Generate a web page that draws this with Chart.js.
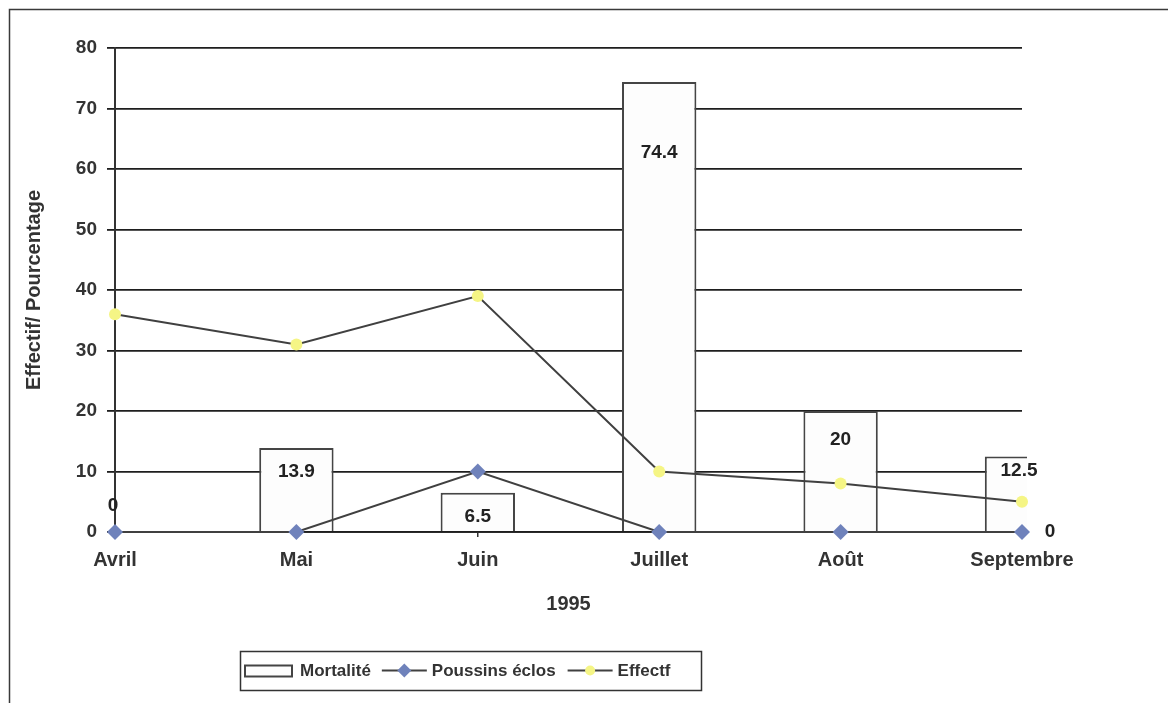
<!DOCTYPE html>
<html>
<head>
<meta charset="utf-8">
<script src="https://cdn.jsdelivr.net/npm/chart.js@4/dist/chart.umd.min.js"></script>
<style>
  html, body { margin: 0; padding: 0; background: #fff; }
  #wrap { width: 1168px; height: 703px; }
</style>
</head>
<body>
<div id="wrap"><canvas id="graphique" width="1168" height="703"></canvas></div>
<script>
// Mois de l'année 1995
const mois = ['Avril', 'Mai', 'Juin', 'Juillet', 'Août', 'Septembre'];
// Mortalité (%)
const mortalite = [0, 13.9, 6.5, 74.4, 20, 12.5];
// Poussins éclos
const poussinsEclos = [0, 0, 10, 0, 0, 0];
// Effectif
const effectif = [36, 31, 39, 10, 8, 5];
// Graduations de l'axe vertical
const graduations = [0, 10, 20, 30, 40, 50, 60, 70, 80];

// Position des étiquettes de mortalité : décalage (px) sous le haut de la barre
const decalageEtiquettes = [-26, 24, 24, 71, 29, 14];

const police = "'Liberation Sans', Arial, sans-serif";
const couleurTexte = '#333333';

// Cadre extérieur (haut et gauche)
const cadre = {
  id: 'cadre',
  beforeDraw(chart) {
    const ctx = chart.ctx;
    ctx.save();
    ctx.fillStyle = '#ffffff';
    ctx.fillRect(0, 0, chart.width, chart.height);
    ctx.strokeStyle = '#3a3a3a';
    ctx.lineWidth = 1.5;
    ctx.beginPath();
    ctx.moveTo(chart.width, 9.5);
    ctx.lineTo(9.5, 9.5);
    ctx.lineTo(9.5, chart.height);
    ctx.stroke();
    ctx.restore();
  }
};

// Étiquettes de valeurs
const etiquettes = {
  id: 'etiquettes',
  afterDatasetsDraw(chart) {
    const ctx = chart.ctx;
    ctx.save();
    ctx.font = 'bold 19px ' + police;
    ctx.textAlign = 'center';
    ctx.textBaseline = 'middle';
    ctx.fillStyle = '#222222';
    // Mortalité : dans la barre, sous son sommet
    const barres = chart.getDatasetMeta(0).data;
    barres.forEach((b, i) => {
      let x = b.x;
      if (i === 0) x -= 2;
      if (i === mois.length - 1) x -= 3;
      ctx.fillText(String(mortalite[i]), x, b.y + decalageEtiquettes[i]);
    });
    // Poussins éclos : valeur du dernier mois, à droite du point
    const pts = chart.getDatasetMeta(1).data;
    const dernier = pts[pts.length - 1];
    ctx.fillText(String(poussinsEclos[poussinsEclos.length - 1]), dernier.x + 28, dernier.y);
    ctx.restore();
  }
};

// Légende encadrée sous le graphique
const legendeEncadree = {
  id: 'legendeEncadree',
  afterDraw(chart) {
    const ctx = chart.ctx;
    const ds = chart.data.datasets;
    const x0 = 240, y0 = 651, w = 461, h = 39;
    const cy = y0 + h / 2;
    ctx.save();
    ctx.strokeStyle = '#333333';
    ctx.lineWidth = 1.5;
    ctx.strokeRect(x0 + 0.5, y0 + 0.5, w, h);
    ctx.font = 'bold 17px ' + police;
    ctx.textBaseline = 'middle';
    ctx.textAlign = 'left';
    let x = x0 + 5;
    // Mortalité : rectangle
    ctx.fillStyle = '#fdfdfd';
    ctx.fillRect(x, cy - 5, 47, 11);
    ctx.strokeStyle = '#444444';
    ctx.lineWidth = 2;
    ctx.strokeRect(x, cy - 5, 47, 11);
    x += 55;
    ctx.fillStyle = couleurTexte;
    ctx.fillText(ds[0].label, x, cy + 1);
    x += ctx.measureText(ds[0].label).width + 11;
    // Séries en ligne : trait + marqueur
    [1, 2].forEach((k) => {
      const d = ds[k];
      ctx.strokeStyle = d.borderColor;
      ctx.lineWidth = 2;
      ctx.beginPath();
      ctx.moveTo(x, cy);
      ctx.lineTo(x + 45, cy);
      ctx.stroke();
      ctx.fillStyle = d.pointBackgroundColor;
      ctx.beginPath();
      if (d.pointStyle === 'rectRot') {
        const r = 7;
        ctx.moveTo(x + 22.5, cy - r);
        ctx.lineTo(x + 22.5 + r, cy);
        ctx.lineTo(x + 22.5, cy + r);
        ctx.lineTo(x + 22.5 - r, cy);
        ctx.closePath();
      } else {
        ctx.arc(x + 22.5, cy, 5, 0, Math.PI * 2);
      }
      ctx.fill();
      x += 50;
      ctx.fillStyle = couleurTexte;
      ctx.fillText(d.label, x, cy + 1);
      x += ctx.measureText(d.label).width + 12;
    });
    ctx.restore();
  }
};

const policeX = { family: police, size: 20, weight: 'bold' };
const policeY = { family: police, size: 19, weight: 'bold' };

new Chart(document.getElementById('graphique'), {
  type: 'bar',
  data: {
    labels: mois,
    datasets: [
      {
        type: 'bar',
        label: 'Mortalité',
        data: mortalite,
        backgroundColor: '#fdfdfd',
        borderColor: '#454545',
        borderWidth: 2,
        borderSkipped: 'bottom',
        barPercentage: 0.41,
        categoryPercentage: 1,
        order: 3,
        clip: { left: 0, top: 0, right: 5, bottom: 0 }
      },
      {
        type: 'line',
        label: 'Poussins éclos',
        data: poussinsEclos,
        borderColor: '#404040',
        borderWidth: 2,
        tension: 0,
        pointStyle: 'rectRot',
        pointRadius: 8,
        pointBackgroundColor: '#6f82bb',
        pointBorderColor: '#6f82bb',
        pointBorderWidth: 0,
        order: 1,
        clip: false
      },
      {
        type: 'line',
        label: 'Effectf',
        data: effectif,
        borderColor: '#404040',
        borderWidth: 2,
        tension: 0,
        pointStyle: 'circle',
        pointRadius: 6,
        pointBackgroundColor: '#f5f585',
        pointBorderColor: '#f5f585',
        pointBorderWidth: 0,
        order: 2,
        clip: false
      }
    ]
  },
  options: {
    responsive: false,
    animation: false,
    events: [],
    layout: { padding: { left: 22, top: 48, right: 146, bottom: 87 } },
    plugins: {
      legend: { display: false },
      tooltip: { enabled: false }
    },
    scales: {
      x: {
        offset: false,
        grid: { display: true, offset: false, drawOnChartArea: false, tickLength: 5, color: '#333333', lineWidth: 1.5 },
        border: { display: true, color: '#1e1e1e', width: 1.8 },
        ticks: { font: policeX, color: couleurTexte, padding: 11, maxRotation: 0, autoSkip: false },
        title: { display: true, text: '1995', font: policeX, color: couleurTexte, padding: 0 },
        afterFit(s) { s.height = 84; }
      },
      y: {
        min: 0,
        max: 80,
        afterBuildTicks(s) { s.ticks = graduations.map(v => ({ value: v })); },
        ticks: { font: policeY, color: couleurTexte, padding: 10 },
        grid: { color: '#1e1e1e', lineWidth: 1.8, tickLength: 8 },
        border: { display: true, color: '#333333', width: 2 },
        title: { display: true, text: 'Effectif/ Pourcentage', font: { family: police, size: 20, weight: 'bold' }, color: couleurTexte, padding: 0 },
        afterFit(s) { s.width = 93; }
      }
    }
  },
  plugins: [cadre, etiquettes, legendeEncadree]
});
</script>
</body>
</html>
